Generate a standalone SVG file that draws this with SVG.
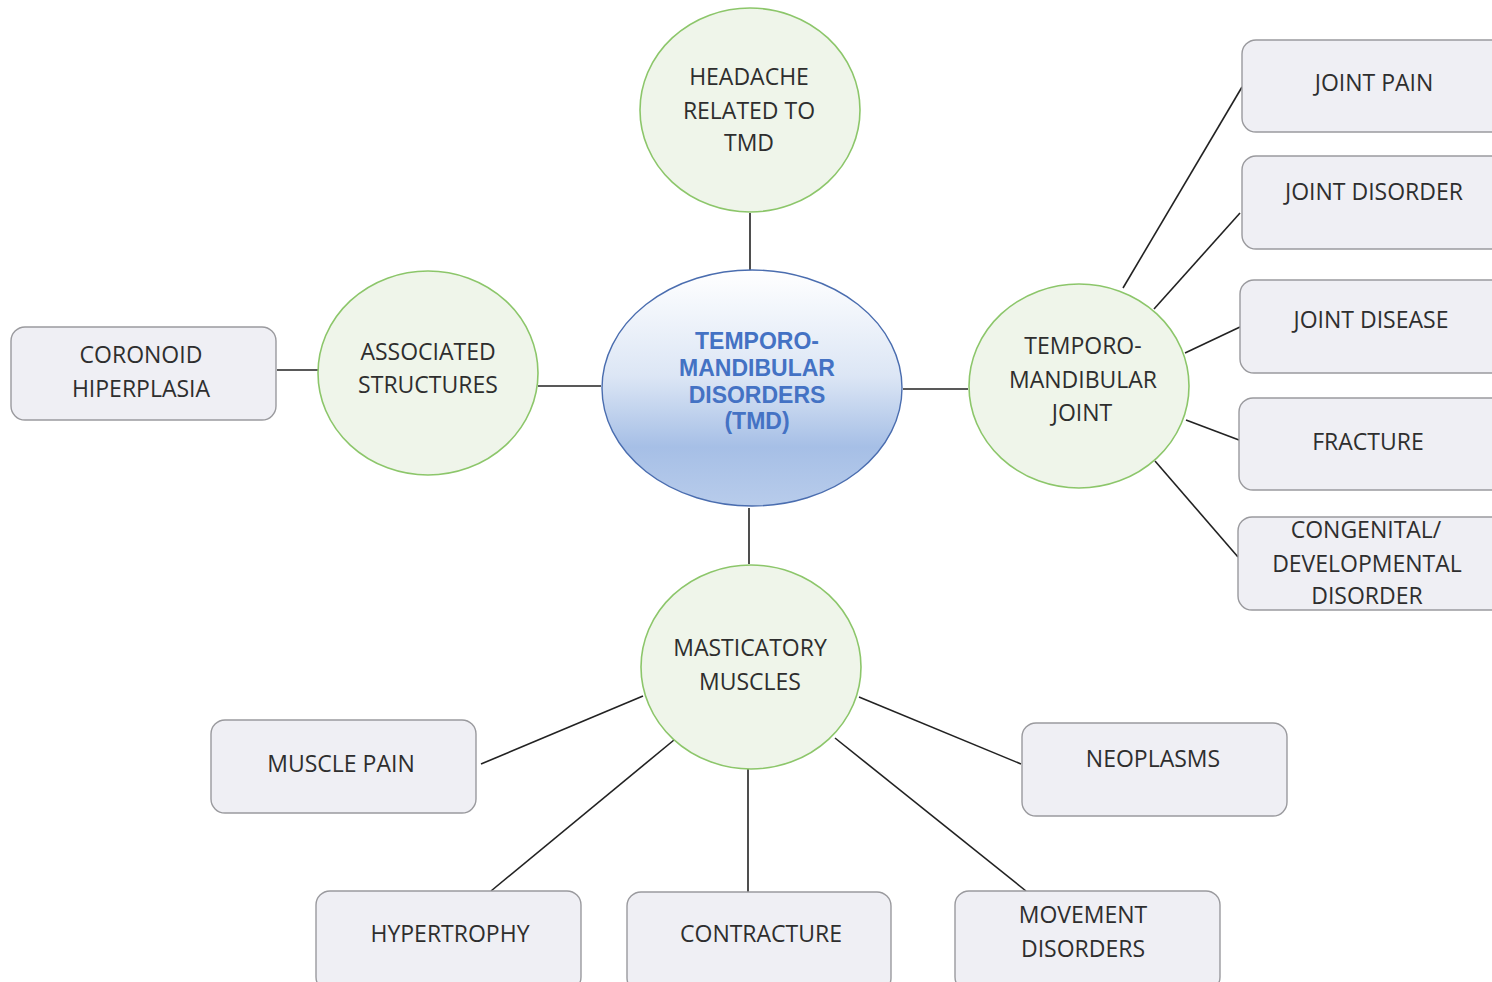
<svg xmlns="http://www.w3.org/2000/svg" width="1492" height="982" viewBox="0 0 1492 982">
<style>
.c{fill:#EFF5EA;stroke:#8CC66A;stroke-width:1.6}
.b{fill:#EFEFF4;stroke:#9A9A9E;stroke-width:1.4}
.t{font-family:"Open Sans","DejaVu Sans",sans-serif;font-size:23px;fill:#2E2E2E;text-anchor:middle}
.m{font-family:"Liberation Sans",Arial,sans-serif;font-size:23px;font-weight:bold;fill:#4472C4;text-anchor:middle}
.l{stroke:#222;stroke-width:1.6;fill:none}
</style>
<defs>
<linearGradient id="g" x1="0" y1="0" x2="0" y2="1">
<stop offset="0" stop-color="#FFFFFF"/>
<stop offset="0.45" stop-color="#DCE6F5"/>
<stop offset="0.75" stop-color="#A6BFE6"/>
<stop offset="1" stop-color="#B8CCEB"/>
</linearGradient>
</defs>
<rect width="1492" height="982" fill="#fff"/>
<g id="connectors">
<line class="l" x1="750" y1="213" x2="750" y2="270"/>
<line class="l" x1="277" y1="370" x2="318" y2="370"/>
<line class="l" x1="538" y1="386" x2="601" y2="386"/>
<line class="l" x1="903" y1="389" x2="968" y2="389"/>
<line class="l" x1="749" y1="508" x2="749" y2="564"/>
<line class="l" x1="1123" y1="288" x2="1242" y2="87"/>
<line class="l" x1="1154" y1="309" x2="1240" y2="213"/>
<line class="l" x1="1185" y1="353" x2="1240" y2="327"/>
<line class="l" x1="1186" y1="420" x2="1239" y2="440"/>
<line class="l" x1="1155" y1="461" x2="1238" y2="557"/>
<line class="l" x1="643" y1="696" x2="481" y2="764"/>
<line class="l" x1="674" y1="740" x2="491" y2="891"/>
<line class="l" x1="748" y1="769" x2="748" y2="892"/>
<line class="l" x1="835" y1="738" x2="1026" y2="891"/>
<line class="l" x1="859" y1="697" x2="1021" y2="764"/>
</g>
<g id="central">
<ellipse cx="752" cy="388" rx="150" ry="118" fill="url(#g)" stroke="#4A6DAF" stroke-width="1.4"/>
<text class="m" x="757" y="349">TEMPORO-</text>
<text class="m" x="757" y="376">MANDIBULAR</text>
<text class="m" x="757" y="403">DISORDERS</text>
<text class="m" x="757" y="429">(TMD)</text>
</g>
<g id="headache">
<ellipse class="c" cx="750" cy="110" rx="110" ry="102"/>
<text class="t" x="749" y="85">HEADACHE</text>
<text class="t" x="749" y="119">RELATED TO</text>
<text class="t" x="749" y="151">TMD</text>
</g>
<g id="associated">
<ellipse class="c" cx="428" cy="373" rx="110" ry="102"/>
<text class="t" x="428" y="360">ASSOCIATED</text>
<text class="t" x="428" y="393">STRUCTURES</text>
</g>
<g id="tmj">
<ellipse class="c" cx="1079" cy="386" rx="110" ry="102"/>
<text class="t" x="1083" y="354">TEMPORO-</text>
<text class="t" x="1083" y="388">MANDIBULAR</text>
<text class="t" x="1082" y="421">JOINT</text>
</g>
<g id="masticatory">
<ellipse class="c" cx="751" cy="667" rx="110" ry="102"/>
<text class="t" x="750" y="656">MASTICATORY</text>
<text class="t" x="750" y="690">MUSCLES</text>
</g>
<g id="coronoid">
<rect class="b" x="11" y="327" width="265" height="93" rx="14"/>
<text class="t" x="141" y="363">CORONOID</text>
<text class="t" x="141" y="397">HIPERPLASIA</text>
</g>
<g id="joint-pain">
<rect class="b" x="1242" y="40" width="270" height="92" rx="14"/>
<text class="t" x="1374" y="91">JOINT PAIN</text>
</g>
<g id="joint-disorder">
<rect class="b" x="1242" y="156" width="270" height="93" rx="14"/>
<text class="t" x="1374" y="200">JOINT DISORDER</text>
</g>
<g id="joint-disease">
<rect class="b" x="1240" y="280" width="272" height="93" rx="14"/>
<text class="t" x="1371" y="328">JOINT DISEASE</text>
</g>
<g id="fracture">
<rect class="b" x="1239" y="398" width="273" height="92" rx="14"/>
<text class="t" x="1368" y="450">FRACTURE</text>
</g>
<g id="congenital">
<rect class="b" x="1238" y="517" width="274" height="93" rx="14"/>
<text class="t" x="1366" y="538">CONGENITAL/</text>
<text class="t" x="1367" y="572">DEVELOPMENTAL</text>
<text class="t" x="1367" y="604">DISORDER</text>
</g>
<g id="muscle-pain">
<rect class="b" x="211" y="720" width="265" height="93" rx="14"/>
<text class="t" x="341" y="772">MUSCLE PAIN</text>
</g>
<g id="neoplasms">
<rect class="b" x="1022" y="723" width="265" height="93" rx="14"/>
<text class="t" x="1153" y="767">NEOPLASMS</text>
</g>
<g id="hypertrophy">
<rect class="b" x="316" y="891" width="265" height="100" rx="14"/>
<text class="t" x="450" y="942">HYPERTROPHY</text>
</g>
<g id="contracture">
<rect class="b" x="627" y="892" width="264" height="100" rx="14"/>
<text class="t" x="761" y="942">CONTRACTURE</text>
</g>
<g id="movement">
<rect class="b" x="955" y="891" width="265" height="100" rx="14"/>
<text class="t" x="1083" y="923">MOVEMENT</text>
<text class="t" x="1083" y="957">DISORDERS</text>
</g>
</svg>
